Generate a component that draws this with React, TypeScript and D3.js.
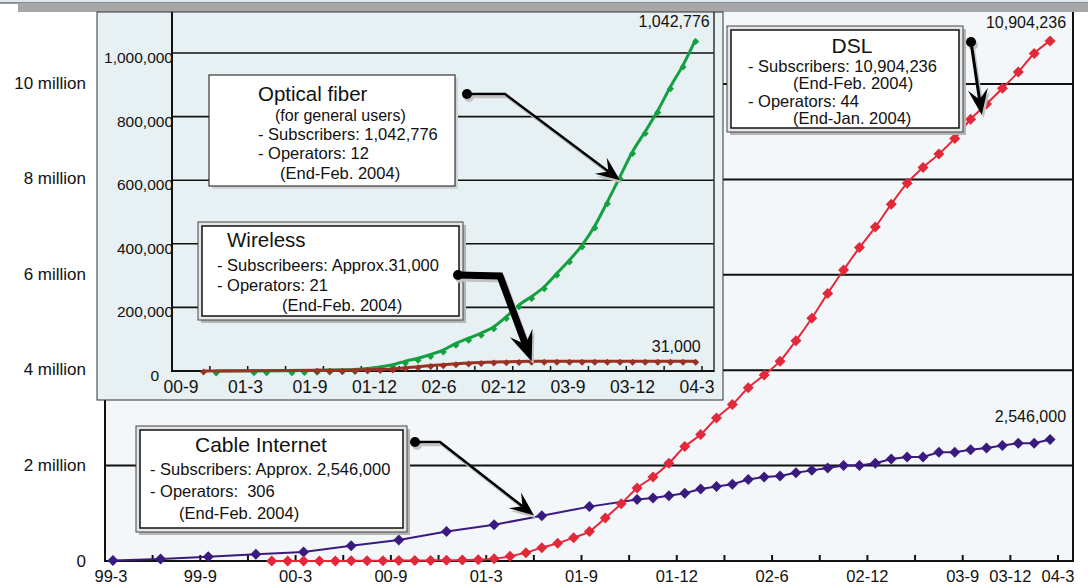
import * as d3 from 'd3';

const W = 1088;
const H = 587;
const FONT = '"Liberation Sans", Arial, Helvetica, sans-serif';

// ---- main chart (categories are thirds of a tick interval) ----
const mainTickLabels = ['99-3', '99-9', '00-3', '00-9', '01-3', '01-9', '01-12', '02-6', '02-12', '03-9', '03-12', '04-3'];
const mainTickLabelSlots = [0, 6, 12, 18, 24, 30, 36, 42, 48, 54, 57, 60];
const mainGridMillions = [2, 4, 6, 8, 10];
const mainYLabels = ['2 million', '4 million', '6 million', '8 million', '10 million'];

// Cable Internet (millions)
const cableSlots = [0, 3, 6, 9, 12, 15, 18, 21, 24, 27, 30,
  33, 34, 35, 36, 37, 38, 39, 40, 41, 42, 43, 44, 45, 46, 47, 48, 49, 50, 51, 52, 53, 54, 55, 56, 57, 58, 59];
const cableValues = [0.01, 0.04, 0.09, 0.14, 0.19, 0.32, 0.44, 0.62, 0.76, 0.95, 1.14,
  1.29, 1.32, 1.37, 1.42, 1.51, 1.56, 1.61, 1.71, 1.76, 1.78, 1.85, 1.9, 1.95, 2.0, 2.0, 2.05,
  2.14, 2.18, 2.18, 2.28, 2.28, 2.33, 2.37, 2.42, 2.47, 2.47, 2.546];

// DSL (millions), monthly from slot 10
const dslSlots = d3.range(10, 60);
const dslValues = [0.0002, 0.0005, 0.001, 0.001, 0.002, 0.003, 0.004, 0.006, 0.008, 0.01, 0.012, 0.016, 0.02, 0.025,
  0.045, 0.1, 0.175, 0.28, 0.37, 0.49, 0.62, 0.9, 1.2, 1.53, 1.76, 2.05, 2.4, 2.65, 3.0, 3.28,
  3.63, 3.9, 4.19, 4.62, 5.09, 5.61, 6.1, 6.57, 7.0, 7.48, 7.92, 8.25, 8.53, 8.86, 9.26, 9.58,
  9.91, 10.25, 10.64, 10.904];

// ---- inset (months since 00-9) ----
const insetTickLabels = ['00-9', '01-3', '01-9', '01-12', '02-6', '02-12', '03-9', '03-12', '04-3'];
const insetGrid = [200000, 400000, 600000, 800000, 1000000];

// Optical fiber (thousands)
const fiberMonths = [3, 6, 7, 9, 10, 11, 12, 13, 14, 15, 16, 17, 18, 19, 20, 21, 22, 23, 24, 25, 26, 27, 28,
  29, 30, 31, 32, 33, 34, 35, 36, 37, 38, 39, 40, 41];
const fiberValues = [0.2, 0.5, 0.8, 1, 1.5, 2, 3, 4, 5, 8, 13, 20, 31, 40, 52, 66, 87, 103, 119, 139, 171, 208, 234,
  265, 307, 349, 396, 456, 532, 611, 690, 753, 819, 894, 962, 1042.776];

// Wireless (thousands)
const wirelessMonths = [2, 11, 12, 13, 14, 15, 16, 17, 18, 19, 20, 21, 22, 23, 24, 25, 26, 27,
  28, 29, 30, 31, 32, 33, 34, 35, 36, 37, 38, 39, 40, 41];
const wirelessValues = [0.3, 2, 2, 2, 3, 4, 5, 6, 10, 13, 17, 20, 23, 25, 27, 28, 29, 30,
  30.5, 30.6, 30.7, 30.8, 30.8, 30.9, 30.9, 31, 31, 31, 31, 31, 31, 31];

const RED = '#e3283a';
const PURPLE = '#3b1a80';
const GREEN = '#13a040';
const BROWN = '#983225';

const mx = d3.scaleLinear().domain([0, 60]).range([105, 1058]);
const my = d3.scaleLinear().domain([0, 10]).range([561, 84]);
const ix = d3.scaleLinear().domain([0, 42]).range([172, 702]);
const iy = d3.scaleLinear().domain([0, 1000000]).range([371, 53]);
const ixLabel = d3.scalePoint<string>().domain(insetTickLabels).range([181, 697]);

type Pt = [number, number];

const diamond = (r: number) => `M0,${-r}L${r},0L0,${r}L${-r},0Z`;

const Callout = ({ pts, width, headL, headW, dotR }: { pts: Pt[]; width: number; headL: number; headW: number; dotR: number }) => {
  const tip = pts[pts.length - 1];
  const prev = pts[pts.length - 2];
  const ang = Math.atan2(tip[1] - prev[1], tip[0] - prev[0]);
  const notch: Pt = [tip[0] - Math.cos(ang) * headL * 0.6, tip[1] - Math.sin(ang) * headL * 0.6];
  const linePts = [...pts.slice(0, -1), notch];
  const line = d3.line()(linePts) || '';
  const head = `M0,0L${-headL},${headW}L${-headL * 0.6},0L${-headL},${-headW}Z`;
  const deg = (ang * 180) / Math.PI;
  const draw = (color: string, dx: number, dy: number) => (
    <g transform={`translate(${dx},${dy})`}>
      <circle cx={pts[0][0]} cy={pts[0][1]} r={dotR} fill={color} />
      <path d={line} fill="none" stroke={color} strokeWidth={width} strokeLinejoin="miter" />
      <path d={head} fill={color} transform={`translate(${tip[0]},${tip[1]}) rotate(${deg})`} />
    </g>
  );
  return (
    <g>
      {draw('#c2c2c2', 2, 3)}
      {draw('#000', 0, 0)}
    </g>
  );
};

const DoubleBox = ({ x, y, w, h }: { x: number; y: number; w: number; h: number }) => (
  <g>
    <rect x={x + 3} y={y + 3} width={w} height={h} fill="#b5b5b5" />
    <rect x={x} y={y} width={w} height={h} fill="#e6e6e6" stroke="#444" strokeWidth={1} />
    <rect x={x + 4} y={y + 4} width={w - 8} height={h - 8} fill="#fff" stroke="#111" strokeWidth={1.5} />
  </g>
);

const T = ({ x, y, s, children, anchor }: { x: number; y: number; s: number; children: any; anchor?: string }) => (
  <text x={x} y={y} fontSize={s} fontFamily={FONT} fill="#111" textAnchor={anchor || 'start'}>{children}</text>
);

export default function App() {
  const dslLine = d3.line<number>()
    .x((_, i) => mx(dslSlots[i] + 0.5))
    .y((v) => my(v))
    .curve(d3.curveMonotoneX)(dslValues) || '';
  const cableLine = d3.line<number>()
    .x((_, i) => mx(cableSlots[i] + 0.5))
    .y((v) => my(v))(cableValues) || '';
  const fiberLine = d3.line<number>()
    .x((_, i) => ix(fiberMonths[i] + 0.5))
    .y((v) => iy(v * 1000))
    .curve(d3.curveMonotoneX)(fiberValues) || '';
  const wirelessLine = d3.line<number>()
    .x((_, i) => ix(wirelessMonths[i] + 0.5))
    .y((v) => iy(v * 1000))(wirelessValues) || '';

  const lastFiber: Pt = [ix(fiberMonths[fiberMonths.length - 1] + 0.5), iy(fiberValues[fiberValues.length - 1] * 1000)];
  const lastWireless: Pt = [ix(wirelessMonths[wirelessMonths.length - 1] + 0.5), iy(wirelessValues[wirelessValues.length - 1] * 1000)];
  const lastDsl: Pt = [mx(dslSlots[dslSlots.length - 1] + 0.5), my(dslValues[dslValues.length - 1])];
  const lastCable: Pt = [mx(cableSlots[cableSlots.length - 1] + 0.5), my(cableValues[cableValues.length - 1])];

  const [mx0, mx1] = [105, 1073];
  const [ix0, ix1] = [172, 714];

  return (
    <svg width={W} height={H} style={{ position: 'absolute', left: 0, top: 0, background: '#fff' }}>
      {/* header strip */}
      <rect x={-2} y={-20} width={W + 4} height={23} fill="#dceaf0" stroke="#333" strokeWidth={1} />
      <rect x={18} y={3} width={W - 18} height={9} fill="#a7a7a7" />

      {/* main plot */}
      <rect x={mx0} y={12} width={mx1 - mx0} height={561 - 12} fill="#f3f7f9" />
      {mainGridMillions.map((g) => (
        <line key={g} x1={mx0} x2={mx1} y1={my(g)} y2={my(g)} stroke="#111" strokeWidth={2} />
      ))}
      <line x1={mx0} x2={mx0} y1={12} y2={562} stroke="#111" strokeWidth={2} />
      <line x1={mx1} x2={mx1} y1={12} y2={562} stroke="#111" strokeWidth={2} />
      <line x1={mx0} x2={mx1} y1={561} y2={561} stroke="#111" strokeWidth={2} />
      {d3.range(0, 61, 3).map((s) => (
        <line key={s} x1={mx(s)} x2={mx(s)} y1={561} y2={555} stroke="#111" strokeWidth={2} />
      ))}
      {mainYLabels.map((l, i) => (
        <T key={l} x={86} y={my(mainGridMillions[i]) + 5} s={17} anchor="end">{l}</T>
      ))}
      <T x={86} y={567} s={17} anchor="end">0</T>
      {mainTickLabels.map((l, i) => (
        <T key={l} x={mx(mainTickLabelSlots[i]) + (i === 0 ? 6 : 0)} y={582} s={16.5} anchor="middle">{l}</T>
      ))}

      <path d={cableLine} fill="none" stroke={PURPLE} strokeWidth={2} />
      {cableValues.map((v, i) => (
        <path key={i} d={diamond(5.5)} fill={PURPLE} transform={`translate(${mx(cableSlots[i] + 0.5)},${my(v)})`} />
      ))}
      <path d={dslLine} fill="none" stroke={RED} strokeWidth={2} />
      {dslValues.map((v, i) => (
        <path key={i} d={diamond(5.5)} fill={RED} transform={`translate(${mx(dslSlots[i] + 0.5)},${my(v)})`} />
      ))}
      <T x={lastDsl[0] + 16} y={lastDsl[1] - 13} s={16} anchor="end">10,904,236</T>
      <T x={lastCable[0] + 16} y={lastCable[1] - 18} s={16} anchor="end">2,546,000</T>

      {/* inset */}
      <rect x={97} y={12} width={723 - 97} height={400 - 12} fill="#e7f0f3" stroke="#333" strokeWidth={1} />
      {insetGrid.map((g) => (
        <line key={g} x1={ix0} x2={ix1} y1={iy(g)} y2={iy(g)} stroke="#111" strokeWidth={1.6} />
      ))}
      <line x1={ix0} x2={ix0} y1={12} y2={372} stroke="#111" strokeWidth={2} />
      <line x1={ix1} x2={ix1} y1={12} y2={372} stroke="#333" strokeWidth={1.5} />
      <line x1={ix0} x2={ix1} y1={371} y2={371} stroke="#111" strokeWidth={2} />
      {d3.range(0, 43, 3).map((m) => (
        <line key={m} x1={ix(m)} x2={ix(m)} y1={371} y2={366} stroke="#111" strokeWidth={1.5} />
      ))}
      {insetGrid.map((g) => (
        <T key={g} x={173} y={iy(g) + 10} s={15.5} anchor="end">{d3.format(',')(g)}</T>
      ))}
      <T x={159} y={381} s={15.5} anchor="end">0</T>
      {insetTickLabels.map((l) => (
        <T key={l} x={ixLabel(l) || 0} y={393} s={17.5} anchor="middle">{l}</T>
      ))}

      <path d={fiberLine} fill="none" stroke={GREEN} strokeWidth={3} />
      {fiberValues.map((v, i) => (
        <path key={i} d={diamond(3.5)} fill={GREEN} transform={`translate(${ix(fiberMonths[i] + 0.5)},${iy(v * 1000) + 2})`} />
      ))}
      <path d={wirelessLine} fill="none" stroke={BROWN} strokeWidth={3} />
      {wirelessValues.map((v, i) => (
        <path key={i} d={diamond(3.5)} fill={BROWN} transform={`translate(${ix(wirelessMonths[i] + 0.5)},${iy(v * 1000) + 1})`} />
      ))}
      <T x={lastFiber[0] + 14} y={lastFiber[1] - 12} s={16} anchor="end">1,042,776</T>
      <T x={lastWireless[0] + 5} y={lastWireless[1] - 9} s={16} anchor="end">31,000</T>

      {/* Optical fiber annotation */}
      <rect x={212} y={78} width={246} height={111} fill="#d4d4d4" />
      <rect x={209} y={75} width={246} height={111} fill="#fff" stroke="#111" strokeWidth={1} />
      <T x={258} y={101} s={20.5}>Optical fiber</T>
      <T x={275} y={121} s={16}>(for general users)</T>
      <T x={258} y={140} s={16.5}>- Subscribers: 1,042,776</T>
      <T x={258} y={159} s={16.5}>- Operators: 12</T>
      <T x={280} y={179} s={16.5}>(End-Feb. 2004)</T>
      <Callout pts={[[467, 94], [505, 94], [ix(35.5), iy(600000)]]} width={2.5} headL={24} headW={10} dotR={5} />

      {/* Wireless annotation */}
      <DoubleBox x={198} y={222} w={265} h={98} />
      <T x={227} y={247} s={20.5}>Wireless</T>
      <T x={217} y={271} s={16.5}>- Subscribeers: Approx.31,000</T>
      <T x={217} y={291} s={16.5}>- Operators: 21</T>
      <T x={282} y={311} s={16.5}>(End-Feb. 2004)</T>
      <Callout pts={[[458, 275], [500, 276], [ix(28.5), iy(31000)]]} width={7} headL={30} headW={12} dotR={5} />

      {/* DSL annotation */}
      <DoubleBox x={727} y={26} w={236} h={106} />
      <T x={852} y={53} s={21} anchor="middle">DSL</T>
      <T x={748} y={72} s={16.5}>- Subscribers: 10,904,236</T>
      <T x={793} y={89} s={16.5}>(End-Feb. 2004)</T>
      <T x={748} y={107} s={16.5}>- Operators: 44</T>
      <T x={793} y={124} s={16.5}>(End-Jan. 2004)</T>
      <Callout pts={[[971, 42], [mx(55.2), my(9.35)]]} width={3} headL={26} headW={10} dotR={5} />

      {/* Cable annotation */}
      <DoubleBox x={136} y={426} w={271} h={106} />
      <T x={195} y={452} s={21}>Cable Internet</T>
      <T x={150} y={475} s={16.5}>- Subscribers: Approx. 2,546,000</T>
      <T x={150} y={497} s={16.5}>{'- Operators:\u00a0\u00a0306'}</T>
      <T x={179} y={519} s={16.5}>(End-Feb. 2004)</T>
      <Callout pts={[[415, 442], [440, 442], [mx(27), my(0.96)]]} width={2.5} headL={24} headW={10} dotR={5} />
    </svg>
  );
}
